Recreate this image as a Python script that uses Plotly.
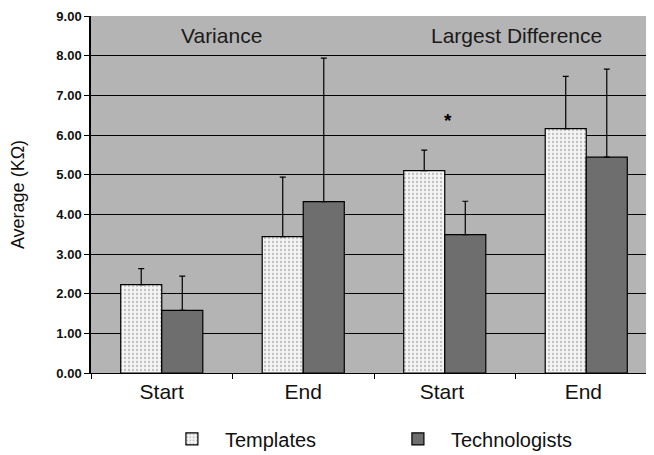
import plotly.graph_objects as go

categories = ["Start", "End", "Start ", "End "]
templates = [2.23, 3.44, 5.10, 6.16]
templates_top = [2.63, 4.94, 5.62, 7.48]
technologists = [1.58, 4.32, 3.49, 5.44]
technologists_top = [2.44, 7.94, 4.33, 7.66]
y_ticks = [0, 1, 2, 3, 4, 5, 6, 7, 8, 9]

tmpl_err = [t - v for t, v in zip(templates_top, templates)]
tech_err = [t - v for t, v in zip(technologists_top, technologists)]

FONT = "Liberation Sans, Arial, sans-serif"

fig = go.Figure()
fig.add_trace(go.Bar(
    x=categories, y=templates, name="Templates",
    marker=dict(color="#f2f2f2", line=dict(color="#000000", width=1.2),
                pattern=dict(shape=".", fgcolor="#8a8a8a", bgcolor="#f4f4f4", size=4, solidity=0.25)),
    error_y=dict(type="data", symmetric=False, array=tmpl_err, arrayminus=[0]*4,
                 color="#000000", thickness=1.2, width=3),
))
fig.add_trace(go.Bar(
    x=categories, y=technologists, name="Technologists",
    marker=dict(color="#6e6e6e", line=dict(color="#000000", width=1.2)),
    error_y=dict(type="data", symmetric=False, array=tech_err, arrayminus=[0]*4,
                 color="#000000", thickness=1.2, width=3),
))

fig.add_annotation(x=0.42, y=8.52, xref="x", yref="y", text="Variance", showarrow=False,
                   font=dict(size=21, color="#1a1a1a", family=FONT), xanchor="center", yanchor="middle")
fig.add_annotation(x=2.51, y=8.52, xref="x", yref="y", text="Largest Difference", showarrow=False,
                   font=dict(size=21, color="#1a1a1a", family=FONT), xanchor="center", yanchor="middle")
fig.add_annotation(x=2.02, y=6.37, xref="x", yref="y", text="*", showarrow=False,
                   font=dict(size=19, color="#000000", family=FONT, weight="bold"))

fig.update_layout(
    width=654, height=455,
    margin=dict(l=83, r=5, t=8, b=90, autoexpand=False),
    paper_bgcolor="#ffffff", plot_bgcolor="#b4b4b4",
    barmode="group", bargap=0.42, bargroupgap=0,
    font=dict(family=FONT, color="#111111"),
    showlegend=True,
    legend=dict(orientation="h", x=0.12, y=0.053, xref="paper", yref="container",
                xanchor="left", yanchor="middle",
                font=dict(size=20, family=FONT, color="#111111"), itemwidth=56,
                traceorder="normal", entrywidth=155, entrywidthmode="pixels",
                bgcolor="rgba(0,0,0,0)"),
    xaxis=dict(tickson="boundaries", ticks="outside", ticklen=5, tickcolor="#000000",
               showline=True, linecolor="#000000", linewidth=1,
               tickfont=dict(size=21, family=FONT, color="#111111"), showgrid=False,
               automargin=False),
    yaxis=dict(range=[0, 9], tickvals=y_ticks, tickformat=".2f",
               ticks="outside", ticklen=5, tickcolor="#000000",
               showline=True, linecolor="#000000", linewidth=1.5,
               showgrid=True, gridcolor="#000000", gridwidth=1.3,
               ticklabeloverflow="allow",
               tickfont=dict(size=13, family=FONT, color="#111111", weight="bold"),
               title=dict(text="Average (KΩ)", font=dict(size=18, family=FONT, color="#111111"), standoff=34),
               zeroline=False, automargin=False),
)

fig.write_html("out.html")
